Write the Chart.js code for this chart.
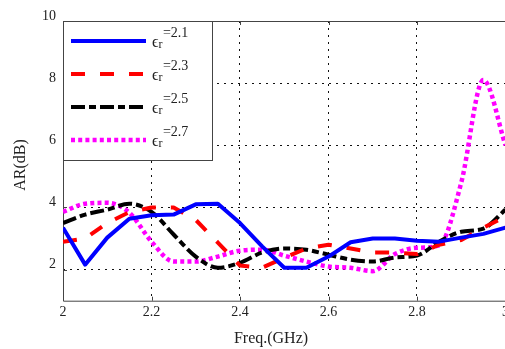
<!DOCTYPE html>
<html>
<head>
<meta charset="utf-8">
<script src="https://cdn.jsdelivr.net/npm/chart.js@4.4.0/dist/chart.umd.min.js"></script>
<style>
  html, body { margin: 0; padding: 0; background: #fff; overflow: hidden; }
  #wrap { width: 505px; height: 349px; overflow: hidden; }
</style>
</head>
<body>
<div id="wrap"><canvas id="chart" width="512" height="349"></canvas></div>
<script>
// frequency samples (GHz)
const freqs = [2.0, 2.05, 2.1, 2.15, 2.2, 2.25, 2.3, 2.35, 2.4, 2.45, 2.5,
               2.55, 2.6, 2.65, 2.7, 2.75, 2.8, 2.85, 2.9, 2.95, 3.0];

// axial ratio (dB) for each permittivity
const ar21 = [3.35, 2.16, 3.03, 3.64, 3.75, 3.77, 4.1, 4.12, 3.5, 2.75, 2.06,
              2.06, 2.42, 2.88, 3.0, 3.0, 2.93, 2.9, 3.03, 3.15, 3.35];
const ar23 = [2.9, 3.0, 3.5, 3.85, 4.0, 4.0, 3.6, 2.87, 2.13, 2.06, 2.38,
              2.68, 2.8, 2.68, 2.55, 2.55, 2.5, 2.8, 2.95, 3.35, 3.7];
const ar25 = [3.5, 3.77, 3.93, 4.12, 3.86, 3.13, 2.42, 2.06, 2.22, 2.55, 2.68,
              2.64, 2.48, 2.32, 2.26, 2.39, 2.45, 2.9, 3.22, 3.32, 3.93];
const ar27 = [3.86, 4.12, 4.15, 3.83, 2.9, 2.26, 2.26, 2.42, 2.61, 2.64, 2.45,
              2.26, 2.1, 2.06, 1.95, 2.5, 2.7, 2.78, 4.8, 8.1, 6.0];

const epsLabels = ['2.1', '2.3', '2.5', '2.7'];

const xTicks = [2, 2.2, 2.4, 2.6, 2.8, 3];
const xTickLabels = ['2', '2.2', '2.4', '2.6', '2.8', '3'];
const yTicks = [2, 4, 6, 8, 10];
const yTickLabels = ['2', '4', '6', '8', '10'];

const serif = '"Liberation Serif", "Times New Roman", "DejaVu Serif", serif';

function toPoints(values) {
  return values.map((v, i) => ({ x: freqs[i], y: v }));
}

// solid frame (top, left, bottom) plus small inward ticks
const framePlugin = {
  id: 'frame',
  beforeDatasetsDraw(chart) {
    const { ctx, chartArea: a, scales } = chart;
    ctx.save();
    ctx.strokeStyle = '#444';
    ctx.lineWidth = 1;
    ctx.beginPath();
    ctx.moveTo(a.right + 2, a.top + 0.5);
    ctx.lineTo(a.left + 0.5, a.top + 0.5);
    ctx.lineTo(a.left + 0.5, a.bottom + 0.5);
    ctx.lineTo(a.right + 2, a.bottom + 0.5);
    xTicks.forEach(v => {
      const x = Math.round(scales.x.getPixelForValue(v)) + 0.5;
      ctx.moveTo(x, a.bottom); ctx.lineTo(x, a.bottom - 4);
      ctx.moveTo(x, a.top); ctx.lineTo(x, a.top + 4);
    });
    yTicks.forEach(v => {
      const y = Math.round(scales.y.getPixelForValue(v)) + 0.5;
      ctx.moveTo(a.left, y); ctx.lineTo(a.left + 4, y);
    });
    ctx.stroke();
    ctx.restore();
  }
};

// axis titles
const titlePlugin = {
  id: 'axisTitles',
  afterDraw(chart) {
    const ctx = chart.ctx;
    ctx.save();
    ctx.fillStyle = '#222';
    ctx.font = '16px ' + serif;
    ctx.textAlign = 'center';
    ctx.textBaseline = 'middle';
    ctx.fillText('Freq.(GHz)', 271, 339);
    ctx.translate(21, 165);
    ctx.rotate(-Math.PI / 2);
    ctx.fillText('AR(dB)', 0, 0);
    ctx.restore();
  }
};

// legend box with epsilon_r labels
const legendPlugin = {
  id: 'epsLegend',
  afterDatasetsDraw(chart) {
    const { ctx, chartArea: a } = chart;
    const boxX = a.left + 0.5, boxY = a.top + 0.5, boxW = 149, boxH = 139;
    ctx.save();
    ctx.fillStyle = '#fff';
    ctx.fillRect(boxX, boxY, boxW, boxH);
    ctx.strokeStyle = '#444';
    ctx.lineWidth = 1;
    ctx.strokeRect(boxX, boxY, boxW, boxH);
    chart.data.datasets.forEach((ds, i) => {
      const y = a.top + 20 + i * 33;
      ctx.save();
      ctx.strokeStyle = ds.borderColor;
      ctx.lineWidth = ds.borderWidth;
      ctx.lineCap = 'butt';
      ctx.setLineDash(ds.borderDash || []);
      ctx.beginPath();
      ctx.moveTo(a.left + 8, y);
      ctx.lineTo(a.left + 83, y);
      ctx.stroke();
      ctx.restore();
      ctx.fillStyle = '#222';
      ctx.textAlign = 'left';
      ctx.textBaseline = 'alphabetic';
      let x = a.left + 89;
      ctx.font = '16px ' + serif;
      ctx.fillText('\u03F5', x, y + 6);
      x += ctx.measureText('\u03F5').width;
      ctx.font = '12px ' + serif;
      ctx.fillText('r', x, y + 7);
      x += ctx.measureText('r').width + 0.5;
      ctx.font = '14px ' + serif;
      ctx.fillText('=' + epsLabels[i], x, y - 4);
    });
    ctx.restore();
  }
};

const ctx = document.getElementById('chart').getContext('2d');
const chart = new Chart(ctx, {
  type: 'line',
  data: {
    datasets: [
      { label: '\u03F5r=' + epsLabels[0], data: toPoints(ar21), borderColor: '#0000ff',
        borderWidth: 4, borderDash: [], tension: 0 },
      { label: '\u03F5r=' + epsLabels[1], data: toPoints(ar23), borderColor: '#ff0000',
        borderWidth: 4, borderDash: [14, 15], tension: 0 },
      { label: '\u03F5r=' + epsLabels[2], data: toPoints(ar25), borderColor: '#000000',
        borderWidth: 4, borderDash: [14, 4, 7, 4], cubicInterpolationMode: 'monotone' },
      { label: '\u03F5r=' + epsLabels[3], data: toPoints(ar27), borderColor: '#ff00ff',
        borderWidth: 4.5, borderDash: [4, 3.2], cubicInterpolationMode: 'monotone' }
    ]
  },
  options: {
    responsive: false,
    animation: false,
    layout: { padding: { left: 0, right: 5, top: 21, bottom: 0 } },
    elements: {
      point: { radius: 0 },
      line: { borderCapStyle: 'butt', borderJoinStyle: 'round', fill: false }
    },
    plugins: { legend: { display: false }, tooltip: { enabled: false } },
    scales: {
      x: {
        type: 'linear',
        min: 2,
        max: 3,
        afterBuildTicks: s => { s.ticks = xTicks.map(v => ({ value: v })); },
        afterFit: s => { s.height = 48.3; },
        grid: { color: '#111', lineWidth: 1, drawTicks: false },
        border: { display: false, dash: [2, 5] },
        ticks: {
          padding: 3,
          color: '#222',
          maxRotation: 0,
          font: { family: serif, size: 14 },
          callback: (v, i) => xTickLabels[i]
        }
      },
      y: {
        type: 'linear',
        min: 1,
        max: 10,
        afterBuildTicks: s => { s.ticks = yTicks.map(v => ({ value: v })); },
        afterFit: s => { s.width = 63; },
        grid: { color: '#111', lineWidth: 1, drawTicks: false },
        border: { display: false, dash: [2, 5] },
        ticks: {
          padding: 7,
          labelOffset: -5,
          color: '#222',
          font: { family: serif, size: 14 },
          callback: (v, i) => yTickLabels[i]
        }
      }
    }
  },
  plugins: [framePlugin, legendPlugin, titlePlugin]
});
</script>
</body>
</html>
